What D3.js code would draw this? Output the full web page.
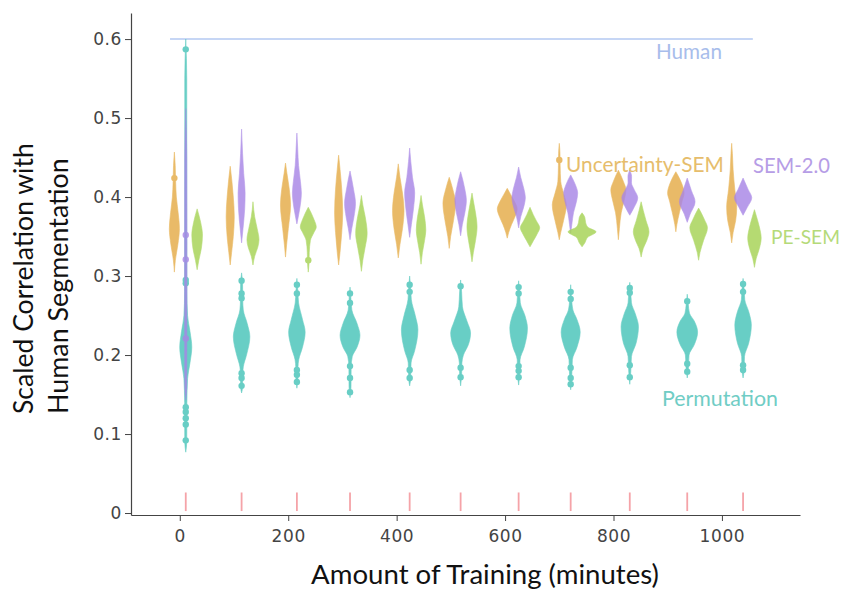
<!DOCTYPE html>
<html><head><meta charset="utf-8">
<script src="https://cdn.jsdelivr.net/npm/d3@7"></script>
<style>body{margin:0;background:#fff}</style>
</head><body>
<svg id="chart" width="841" height="589"></svg>
<script>
// ---------------- DATA ----------------
const trainingMinutes = [11, 114, 216, 314, 424, 518, 625, 721, 830, 936, 1039];
const xTickValues = [0, 200, 400, 600, 800, 1000];
const yTickValues = [0, 0.1, 0.2, 0.3, 0.4, 0.5, 0.6];
const humanScore = 0.6;
const seriesNames = ["Permutation", "Uncertainty-SEM", "SEM-2.0", "PE-SEM"];

// violin profiles: [score, relative density]
const permutationProfiles = [
  [[0.077,0],[0.09,0.07],[0.14,0.08],[0.17,0.13],[0.19,0.3],[0.21,0.43],[0.23,0.3],[0.25,0.13],[0.28,0.08],[0.4,0.07],[0.55,0.07],[0.6,0]],
  [[0.152,0],[0.16,0.07],[0.175,0.08],[0.185,0.12],[0.2,0.35],[0.223,0.59],[0.24,0.4],[0.257,0.12],[0.27,0.08],[0.29,0.07],[0.304,0]],
  [[0.158,0],[0.17,0.07],[0.185,0.08],[0.194,0.13],[0.21,0.4],[0.229,0.59],[0.245,0.4],[0.266,0.12],[0.28,0.07],[0.297,0]],
  [[0.146,0],[0.16,0.07],[0.185,0.08],[0.198,0.16],[0.21,0.5],[0.225,0.71],[0.24,0.5],[0.257,0.13],[0.27,0.07],[0.286,0]],
  [[0.161,0],[0.17,0.07],[0.19,0.1],[0.205,0.35],[0.232,0.59],[0.25,0.4],[0.27,0.12],[0.285,0.07],[0.3,0]],
  [[0.161,0],[0.175,0.07],[0.19,0.09],[0.2,0.2],[0.213,0.55],[0.228,0.71],[0.243,0.45],[0.261,0.13],[0.28,0.07],[0.295,0]],
  [[0.162,0],[0.175,0.07],[0.194,0.1],[0.21,0.4],[0.234,0.63],[0.25,0.45],[0.266,0.12],[0.28,0.07],[0.294,0]],
  [[0.156,0],[0.17,0.07],[0.194,0.12],[0.21,0.45],[0.229,0.68],[0.245,0.45],[0.257,0.16],[0.27,0.07],[0.289,0]],
  [[0.163,0],[0.178,0.07],[0.198,0.12],[0.215,0.45],[0.236,0.62],[0.252,0.4],[0.266,0.12],[0.28,0.07],[0.292,0]],
  [[0.171,0],[0.18,0.07],[0.2,0.13],[0.213,0.5],[0.229,0.74],[0.243,0.5],[0.253,0.16],[0.265,0.07],[0.277,0]],
  [[0.171,0],[0.18,0.07],[0.198,0.1],[0.215,0.4],[0.238,0.59],[0.255,0.4],[0.27,0.12],[0.285,0.07],[0.297,0]]
];
const permutationOutliers = [
  [0.587,0.295,0.291,0.134,0.128,0.12,0.112,0.092],
  [0.294,0.278,0.272,0.177,0.171,0.161],
  [0.289,0.278,0.181,0.175,0.166],
  [0.278,0.266,0.186,0.171,0.153],
  [0.289,0.28,0.181,0.171],
  [0.287,0.184,0.172],
  [0.286,0.278,0.186,0.18,0.172],
  [0.28,0.271,0.184,0.171,0.163],
  [0.285,0.279,0.187,0.172],
  [0.268,0.189,0.179],
  [0.29,0.28,0.187,0.181]
];

const uncertaintyProfiles = [
  [[0.305,0],[0.32,0.07],[0.34,0.25],[0.36,0.36],[0.38,0.27],[0.40,0.14],[0.42,0.09],[0.44,0.06],[0.457,0]],
  [[0.314,0],[0.33,0.1],[0.35,0.22],[0.375,0.29],[0.40,0.22],[0.42,0.12],[0.439,0]],
  [[0.324,0],[0.34,0.08],[0.36,0.2],[0.39,0.36],[0.41,0.27],[0.43,0.1],[0.443,0]],
  [[0.314,0],[0.33,0.1],[0.355,0.22],[0.38,0.29],[0.41,0.22],[0.435,0.1],[0.453,0]],
  [[0.323,0],[0.34,0.12],[0.36,0.3],[0.383,0.41],[0.405,0.3],[0.425,0.12],[0.442,0]],
  [[0.335,0],[0.35,0.1],[0.37,0.3],[0.392,0.45],[0.41,0.25],[0.425,0]],
  [[0.348,0],[0.355,0.1],[0.365,0.3],[0.375,0.55],[0.385,0.71],[0.395,0.5],[0.403,0.25],[0.411,0]],
  [[0.346,0],[0.355,0.1],[0.37,0.3],[0.39,0.5],[0.405,0.3],[0.42,0.1],[0.44,0.06],[0.455,0.05],[0.468,0]],
  [[0.346,0],[0.36,0.07],[0.38,0.2],[0.395,0.4],[0.409,0.54],[0.42,0.35],[0.434,0]],
  [[0.356,0],[0.365,0.07],[0.38,0.25],[0.395,0.45],[0.405,0.59],[0.418,0.4],[0.432,0]],
  [[0.342,0],[0.355,0.1],[0.37,0.28],[0.387,0.36],[0.41,0.22],[0.435,0.1],[0.455,0.05],[0.468,0]]
];
const uncertaintyOutliers = [[0.424],[],[],[],[],[],[],[0.447],[],[],[]];

const sem2Profiles = [
  [[0.143,0],[0.16,0.07],[0.25,0.08],[0.35,0.08],[0.45,0.07],[0.512,0]],
  [[0.342,0],[0.36,0.1],[0.385,0.22],[0.405,0.25],[0.43,0.15],[0.455,0.07],[0.486,0]],
  [[0.366,0],[0.38,0.15],[0.395,0.28],[0.405,0.32],[0.42,0.25],[0.44,0.12],[0.46,0.06],[0.481,0]],
  [[0.346,0],[0.36,0.12],[0.375,0.28],[0.392,0.39],[0.41,0.25],[0.433,0]],
  [[0.349,0],[0.365,0.12],[0.385,0.27],[0.405,0.36],[0.425,0.2],[0.445,0.08],[0.462,0]],
  [[0.351,0],[0.365,0.12],[0.38,0.3],[0.396,0.41],[0.41,0.3],[0.432,0]],
  [[0.361,0],[0.375,0.15],[0.39,0.4],[0.399,0.48],[0.41,0.38],[0.425,0.15],[0.438,0]],
  [[0.354,0],[0.365,0.08],[0.38,0.2],[0.395,0.42],[0.405,0.5],[0.415,0.35],[0.428,0]],
  [[0.377,0],[0.385,0.25],[0.399,0.57],[0.41,0.3],[0.418,0.12],[0.426,0.13],[0.434,0]],
  [[0.368,0],[0.378,0.2],[0.394,0.56],[0.408,0.3],[0.424,0]],
  [[0.377,0],[0.387,0.3],[0.399,0.62],[0.41,0.35],[0.424,0]]
];
const sem2Outliers = [[0.352,0.321,0.221],[],[],[],[],[],[],[],[],[],[]];

const peSemProfiles = [
  [[0.308,0],[0.32,0.12],[0.335,0.3],[0.352,0.38],[0.368,0.25],[0.385,0]],
  [[0.314,0],[0.325,0.12],[0.337,0.35],[0.346,0.43],[0.36,0.3],[0.375,0.12],[0.394,0]],
  [[0.305,0],[0.315,0.05],[0.33,0.07],[0.345,0.15],[0.355,0.4],[0.362,0.57],[0.372,0.4],[0.387,0]],
  [[0.306,0],[0.32,0.1],[0.335,0.25],[0.354,0.41],[0.375,0.27],[0.39,0.1],[0.402,0]],
  [[0.315,0],[0.33,0.1],[0.345,0.25],[0.358,0.34],[0.375,0.25],[0.39,0.1],[0.402,0]],
  [[0.318,0],[0.33,0.1],[0.345,0.25],[0.362,0.36],[0.38,0.25],[0.395,0.1],[0.405,0]],
  [[0.337,0],[0.345,0.25],[0.353,0.5],[0.361,0.69],[0.37,0.45],[0.378,0.22],[0.387,0]],
  [[0.337,0],[0.342,0.2],[0.349,0.4],[0.356,1.0],[0.362,0.4],[0.368,0.25],[0.374,0.2],[0.38,0]],
  [[0.324,0],[0.335,0.15],[0.345,0.4],[0.356,0.56],[0.37,0.35],[0.383,0.15],[0.394,0]],
  [[0.32,0],[0.33,0.1],[0.345,0.35],[0.361,0.63],[0.372,0.4],[0.386,0]],
  [[0.311,0],[0.322,0.12],[0.335,0.35],[0.348,0.48],[0.362,0.35],[0.375,0.15],[0.384,0]]
];
const peSemOutliers = [[],[],[0.32],[],[],[],[],[],[],[],[]];

// ---------------- CHART ----------------
const svg = d3.select("#chart");
const x = d3.scaleLinear().domain([-90, 1144]).range([131, 800]);
const y = d3.scaleLinear().domain([-0.0025, 0.633]).range([515, 13]);
const w = d3.scaleLinear().domain([0, 1]).range([0, 14]);

const series = [
  {name: seriesNames[0], profiles: permutationProfiles, outliers: permutationOutliers, offset: 0,   color: "#48c4b9"},
  {name: seriesNames[1], profiles: uncertaintyProfiles, outliers: uncertaintyOutliers, offset: -21, color: "#e5ac47"},
  {name: seriesNames[2], profiles: sem2Profiles,        outliers: sem2Outliers,        offset: 0,   color: "#a886e6"},
  {name: seriesNames[3], profiles: peSemProfiles,       outliers: peSemOutliers,       offset: 21,  color: "#a5d354"}
];

// human reference line
svg.append("line")
  .attr("x1", x(-18)).attr("x2", x(1057))
  .attr("y1", y(humanScore)).attr("y2", y(humanScore))
  .attr("stroke", "#b3c8f2").attr("stroke-width", 1.5);

// rug ticks
svg.append("g").selectAll("line").data(trainingMinutes).join("line")
  .attr("x1", d => x(d)).attr("x2", d => x(d))
  .attr("y1", y(0.0025)).attr("y2", y(0.026))
  .attr("stroke", "#f5a3a8").attr("stroke-width", 1.8);

series.forEach(s => {
  const g = svg.append("g").attr("opacity", 0.82);
  s.profiles.forEach((prof, i) => {
    const cx = x(trainingMinutes[i] + s.offset);
    const area = d3.area()
      .curve(d3.curveMonotoneY)
      .y(d => y(d[0]))
      .x0(d => cx - w(d[1]))
      .x1(d => cx + w(d[1]));
    g.append("path").attr("d", area(prof))
      .attr("fill", s.color).attr("stroke", s.color).attr("stroke-width", 0.6);
    g.selectAll(null).data(s.outliers[i]).join("circle")
      .attr("cx", cx).attr("cy", d => y(d)).attr("r", 3.2)
      .attr("fill", s.color);
  });
});

// axes
const axisColor = "#444";
const gx = svg.append("g").attr("transform", "translate(0,515)")
  .call(d3.axisBottom(x).tickValues(xTickValues).tickSize(6).tickSizeOuter(0).tickPadding(9)
    .tickFormat(d3.format("d")));
const gy = svg.append("g").attr("transform", "translate(131,0)")
  .call(d3.axisLeft(y).tickValues(yTickValues).tickSize(6).tickSizeOuter(0).tickPadding(3)
    .tickFormat(d => d === 0 ? "0" : d3.format(".1f")(d)));
[gx, gy].forEach(g => {
  g.select(".domain").attr("stroke", axisColor).attr("stroke-width", 1.2);
  g.selectAll(".tick line").attr("stroke", axisColor);
  g.selectAll(".tick text").attr("fill", axisColor)
    .attr("font-family", "DejaVu Sans").attr("font-size", 17)
    .attr("letter-spacing", 0.6);
});

// text helper: fit to measured width
function fit(sel, target) {
  const len = sel.node().getComputedTextLength();
  const fs = parseFloat(sel.attr("font-size"));
  sel.attr("font-size", fs * target / len);
  return sel;
}
const titleFont = "Lato, 'Open Sans', sans-serif";

fit(svg.append("text").attr("x", 485).attr("y", 584).attr("text-anchor", "middle")
  .attr("font-family", titleFont).attr("font-size", 24).attr("fill", "#111")
  .text("Amount of Training (minutes)"), 348);

fit(svg.append("text").attr("transform", "translate(33,414) rotate(-90)")
  .attr("font-family", titleFont).attr("font-size", 24).attr("fill", "#111")
  .text("Scaled Correlation with"), 271);
fit(svg.append("text").attr("transform", "translate(68,414) rotate(-90)")
  .attr("font-family", titleFont).attr("font-size", 24).attr("fill", "#111")
  .text("Human Segmentation"), 256);

const labels = [
  {t: "Human", x: 656, y: 59, w: 66, c: "#a8bdeb"},
  {t: seriesNames[1], x: 566, y: 172, w: 158, c: "#e6bd6c"},
  {t: seriesNames[2], x: 753, y: 173, w: 77, c: "#b69de6"},
  {t: seriesNames[3], x: 771, y: 244, w: 69, c: "#b5da79"},
  {t: seriesNames[0], x: 662, y: 406, w: 116, c: "#70cdc5"}
];
labels.forEach(l => {
  fit(svg.append("text").attr("x", l.x).attr("y", l.y)
    .attr("font-family", titleFont).attr("font-size", 18).attr("fill", l.c)
    .text(l.t), l.w);
});
</script>
</body></html>
